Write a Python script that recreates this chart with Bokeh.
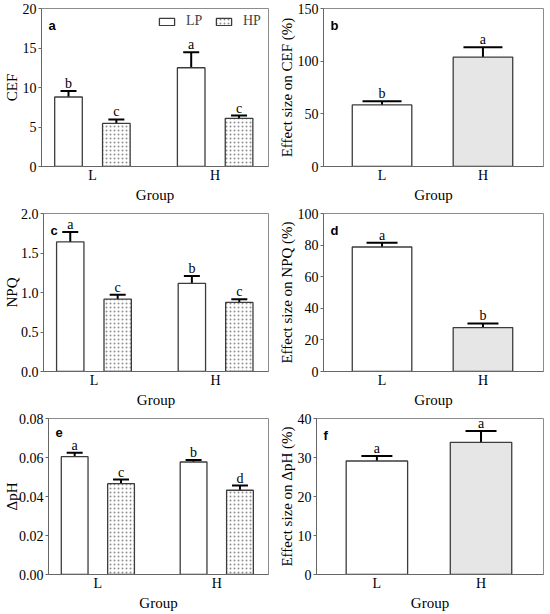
from bokeh.plotting import figure
from bokeh.models import (ColumnDataSource, Range1d, FixedTicker, Whisker, TeeHead,
                          Label, Legend, LegendItem, NumeralTickFormatter)
from bokeh.layouts import column, row
from bokeh.core.properties import value
from bokeh.embed import file_html
from bokeh.resources import INLINE

# ---------------- data ----------------
groups = ["L", "H"]
group_pos = [1, 3]
treatments = ["LP", "HP"]

cef_lp = [8.8, 12.5]
cef_lp_err = [0.75, 1.95]
cef_lp_sig = ["b", "a"]
cef_hp = [5.45, 6.1]
cef_hp_err = [0.5, 0.35]
cef_hp_sig = ["c", "c"]

npq_lp = [1.64, 1.115]
npq_lp_err = [0.125, 0.095]
npq_lp_sig = ["a", "b"]
npq_hp = [0.915, 0.875]
npq_hp_err = [0.055, 0.04]
npq_hp_sig = ["c", "c"]

dph_lp = [0.0604, 0.0577]
dph_lp_err = [0.0021, 0.001]
dph_lp_sig = ["a", "b"]
dph_hp = [0.0466, 0.0432]
dph_hp_err = [0.0021, 0.0024]
dph_hp_sig = ["c", "d"]

eff_cef = [58.5, 103.9]
eff_cef_err = [3.5, 9.2]
eff_cef_sig = ["b", "a"]
eff_npq = [78.8, 27.8]
eff_npq_err = [2.7, 2.6]
eff_npq_sig = ["a", "b"]
eff_dph = [29.1, 33.9]
eff_dph_err = [1.3, 2.9]
eff_dph_sig = ["a", "a"]

cef_ticks = [0, 5, 10, 15, 20]
npq_ticks = [0, 0.5, 1.0, 1.5, 2.0]
dph_ticks = [0, 0.02, 0.04, 0.06, 0.08]
eff_cef_ticks = [0, 50, 100, 150]
eff_npq_ticks = [0, 20, 40, 60, 80, 100]
eff_dph_ticks = [0, 10, 20, 30, 40]

# ---------------- style ----------------
SERIF = "Liberation Serif"
SANS = "Liberation Sans"
FS = "14px"
FS_LAB = "15px"
BAR_LINE = "#3c3c3c"
H_FILL = "#e6e6e6"


def make_fig(yticks, fmt, ylabel, xr, height, min_left, min_right, lab_standoff=0):
    p = figure(width=275, height=height, x_range=Range1d(*xr),
               y_range=Range1d(yticks[0], yticks[-1]),
               output_backend="svg", toolbar_location=None,
               min_border_left=min_left, min_border_right=min_right,
               min_border_top=8, min_border_bottom=39)
    p.xgrid.visible = False
    p.ygrid.visible = False
    p.outline_line_color = "#8c8c8c"
    p.outline_line_width = 1
    p.background_fill_color = "white"
    p.border_fill_color = "white"
    # x axis
    p.xaxis.ticker = FixedTicker(ticks=group_pos)
    p.xaxis.major_label_overrides = dict(zip(group_pos, groups))
    p.xaxis.major_tick_out = 0
    p.xaxis.major_tick_in = 0
    p.xaxis.minor_tick_line_color = None
    p.xaxis.axis_label = "Group"
    p.xaxis.major_label_standoff = 1
    p.xaxis.axis_label_standoff = 1
    # y axis
    p.yaxis.ticker = FixedTicker(ticks=yticks)
    p.yaxis.formatter = NumeralTickFormatter(format=fmt)
    p.yaxis.major_tick_out = 3
    p.yaxis.major_tick_in = 0
    p.yaxis.minor_tick_line_color = None
    p.yaxis.axis_label = ylabel
    p.yaxis.major_label_standoff = 2
    p.yaxis.axis_label_standoff = lab_standoff
    for ax in (p.xaxis, p.yaxis):
        ax.axis_line_color = "#666666"
        ax.major_tick_line_color = "#666666"
        ax.major_label_text_font = SERIF
        ax.major_label_text_font_size = FS
        ax.major_label_text_color = "black"
        ax.axis_label_text_font = SERIF
        ax.axis_label_text_font_size = FS_LAB
        ax.axis_label_text_font_style = "normal"
        ax.axis_label_text_color = "black"
    return p


def add_bars(p, xs, vals, errs, sig, width, fill, hatch=None, cap=16):
    src = ColumnDataSource(dict(x=xs, top=vals,
                                upper=[v + e for v, e in zip(vals, errs)],
                                sig=sig))
    kw = {}
    if hatch:
        kw = dict(hatch_pattern=hatch, hatch_color="#8f8f8f",
                  hatch_scale=4, hatch_weight=1.0)
    r = p.vbar(x="x", top="top", width=width, source=src, fill_color=fill,
               line_color=BAR_LINE, line_width=1.3, **kw)
    w = Whisker(base="x", upper="upper", lower="top", source=src,
                dimension="height", line_color="black", line_width=2,
                upper_head=TeeHead(size=cap, line_color="black", line_width=2),
                lower_head=None)
    p.add_layout(w)
    p.text(x="x", y="upper", text="sig", source=src, text_align="center",
           text_baseline="bottom", text_font=value(SERIF), text_font_size=FS,
           text_color="black")
    return r


def panel_letter(p, letter):
    p.add_layout(Label(x=p.x_range.start, y=p.y_range.end, x_offset=7,
                       y_offset=-9, text=letter, text_baseline="top",
                       text_font=SANS, text_font_size="13px",
                       text_font_style="bold", text_color="black"))


LEFT_XR = (0.17, 3.87)
RIGHT_XR = (-0.16, 4.2)
OFF = 0.39
W_GRP = 0.45
W_ONE = 1.18

lp_x = [g - OFF for g in group_pos]
hp_x = [g + OFF for g in group_pos]

# panel a
pa = make_fig(cef_ticks, "0", "CEF", LEFT_XR, 205, 40, 7)
r_lp = add_bars(pa, lp_x, cef_lp, cef_lp_err, cef_lp_sig, W_GRP, "white")
r_hp = add_bars(pa, hp_x, cef_hp, cef_hp_err, cef_hp_sig, W_GRP, "white", hatch="dot")
leg = Legend(items=[LegendItem(label=treatments[0], renderers=[r_lp]),
                    LegendItem(label=treatments[1], renderers=[r_hp])],
             location="top_right", orientation="horizontal",
             background_fill_alpha=0, border_line_color=None,
             label_text_font=SERIF, label_text_font_size=FS,
             glyph_width=19, glyph_height=9, label_height=14,
             label_standoff=10, spacing=8, padding=2, margin=5)
pa.add_layout(leg)
panel_letter(pa, "a")

# panel b
pb = make_fig(eff_cef_ticks, "0", "Effect size on CEF (%)", RIGHT_XR, 205, 45, 7)
add_bars(pb, group_pos[:1], eff_cef[:1], eff_cef_err[:1], eff_cef_sig[:1], W_ONE, "white", cap=39)
add_bars(pb, group_pos[1:], eff_cef[1:], eff_cef_err[1:], eff_cef_sig[1:], W_ONE, H_FILL, cap=39)
panel_letter(pb, "b")

# panel c
pc = make_fig(npq_ticks, "0.0", "NPQ", LEFT_XR, 205, 40, 7, -2)
add_bars(pc, lp_x, npq_lp, npq_lp_err, npq_lp_sig, W_GRP, "white")
add_bars(pc, hp_x, npq_hp, npq_hp_err, npq_hp_sig, W_GRP, "white", hatch="dot")
panel_letter(pc, "c")

# panel d
pd_ = make_fig(eff_npq_ticks, "0", "Effect size on NPQ (%)", RIGHT_XR, 205, 44, 7)
add_bars(pd_, group_pos[:1], eff_npq[:1], eff_npq_err[:1], eff_npq_sig[:1], W_ONE, "white", cap=31)
add_bars(pd_, group_pos[1:], eff_npq[1:], eff_npq_err[1:], eff_npq_sig[1:], W_ONE, H_FILL, cap=31)
panel_letter(pd_, "d")

# panel e
pe = make_fig(dph_ticks, "0.00", "\u0394pH", LEFT_XR, 203, 43, 7, -4)
add_bars(pe, lp_x, dph_lp, dph_lp_err, dph_lp_sig, W_GRP, "white")
add_bars(pe, hp_x, dph_hp, dph_hp_err, dph_hp_sig, W_GRP, "white", hatch="dot")
panel_letter(pe, "e")

# panel f
pf = make_fig(eff_dph_ticks, "0", "Effect size on \u0394pH (%)", RIGHT_XR, 203, 40, 7)
add_bars(pf, group_pos[:1], eff_dph[:1], eff_dph_err[:1], eff_dph_sig[:1], W_ONE, "white", cap=31)
add_bars(pf, group_pos[1:], eff_dph[1:], eff_dph_err[1:], eff_dph_sig[1:], W_ONE, H_FILL, cap=31)
panel_letter(pf, "f")

layout = column(row(pa, pb), row(pc, pd_), row(pe, pf))

open("out.html", "w").write(file_html(layout, INLINE))
